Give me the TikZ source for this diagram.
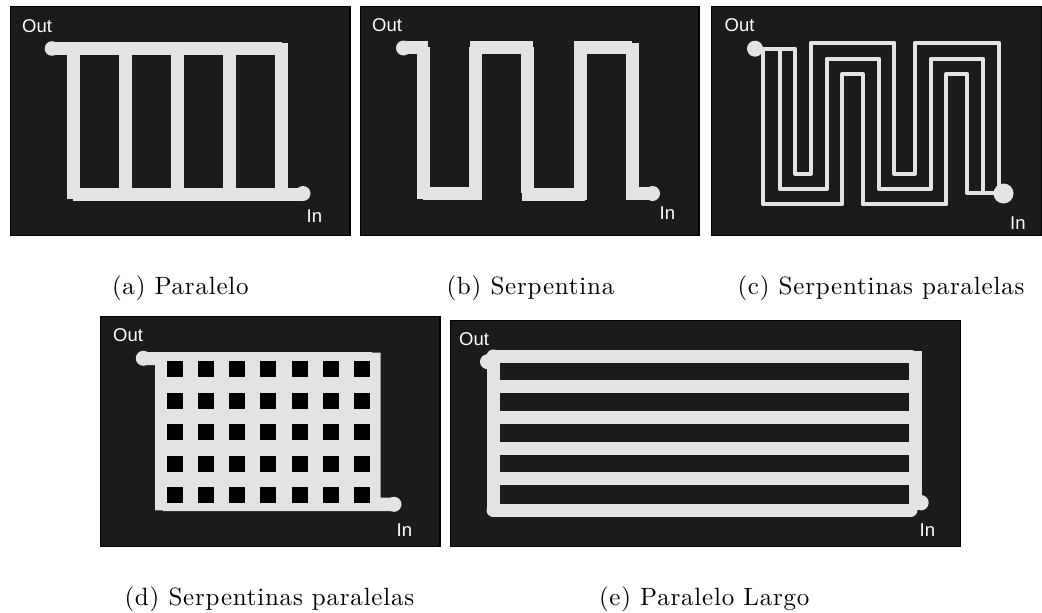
\documentclass[tikz,border=0pt]{standalone}
\usepackage{fontspec}
\setmainfont{Latin Modern Roman}
\newfontfamily\labelfont{Liberation Sans}
\definecolor{plate}{HTML}{1B1B1B}
\definecolor{copper}{HTML}{E3E3E3}
\tikzset{
  panel/.style={draw=black,line width=1.5,fill=plate},
  track/.style={draw=copper,line width=13},
  thintrack/.style={draw=copper,line width=4,line join=round},
  port/.style={anchor=base west,inner sep=0,text=white,font=\labelfont\fontsize{18.5}{20}\selectfont},
  capt/.style={anchor=base west,inner sep=0,scale=2.5,font=\addfontfeature{LetterSpace=3.1}}
}
\begin{document}
\begin{tikzpicture}[x=1pt,y=-1pt]
\useasboundingbox (0,0) rectangle (1042,613);

% (a)
\draw[panel] (10.5,6.5) rectangle (350,235.5);
\draw[track] (52,48.3) -- (281.7,48.3);
\draw[track] (281.7,43) -- (281.7,194);
\draw[track] (73.5,48) -- (73.5,199);
\draw[track] (73,194) -- (303,194);
\foreach \xa in {125.5,177.5,229.5}{
  \draw[track] (\xa,48) -- (\xa,194);
}
\fill[copper] (52,48.5) circle (7.3);
\fill[copper] (303,193.5) circle (7.5);
\node[port] (outa) at (22,32) {Out};
\node[port] (ina) at (306.5,222.5) {In};
\node[capt] (capa) at (111.5,294) {(a) Paralelo};

% (b)
\draw[panel] (360.5,6.5) rectangle (699,235.5);
\draw[track] (403,47.8) -- (428,47.8);
\draw[track] (423.5,47) -- (423.5,199);
\draw[track] (423,193.5) -- (481,193.5);
\draw[track] (475.5,200) -- (475.5,47);
\draw[track] (470,47.5) -- (533,47.5);
\draw[track] (527.5,47) -- (527.5,193);
\draw[track] (522,194) -- (585,194);
\draw[track] (580,200) -- (580,47);
\draw[track] (574,47.5) -- (632,47.5);
\draw[track] (632.5,42.5) -- (632.5,193);
\draw[track] (626,193.5) -- (652,193.5);
\fill[copper] (403.5,48) circle (7.5);
\fill[copper] (652.5,193.5) circle (7.5);
\node[port] (outb) at (372,31.7) {Out};
\node[port] (inb) at (659.5,219.5) {In};
\node[capt] (capb) at (446,294) {(b) Serpentina};

% (c)
\draw[panel] (711.5,6.5) rectangle (1041.5,235.5);
\draw[thintrack] (755,48.7) -- (763.3,48.7) -- (763.3,204.3) -- (842,204.3) -- (842,74) -- (862.7,74) -- (862.7,204.3) -- (946.3,204.3) -- (946.3,74) -- (967.3,74) -- (967.3,193.3) -- (1003,193.3);
\draw[thintrack] (779.7,48.7) -- (779.7,189) -- (826.7,189) -- (826.7,58.7) -- (878.7,58.7) -- (878.7,189) -- (930.7,189) -- (930.7,58.7) -- (983,58.7) -- (983,193.3);
\draw[thintrack] (763.3,48.7) -- (795,48.7) -- (795,173.7) -- (811,173.7) -- (811,42.7) -- (894.3,42.7) -- (894.3,173.7) -- (915,173.7) -- (915,42.7) -- (998.7,42.7) -- (998.7,193.3);
\fill[copper] (755,48.7) circle (8);
\fill[copper] (1003.5,193.5) circle (10);
\node[port] (outc) at (724.5,31.7) {Out};
\node[port] (inc) at (1010,229) {In};
\node[capt] (capc) at (737,294) {(c) Serpentinas paralelas};

% (d)
\draw[panel] (100.5,316.5) rectangle (440,546.5);
\fill[copper] (143,352) -- (372,352) -- (372,352.7) -- (380.7,352.7) -- (380.7,497.7) -- (394,497.7) -- (394,511) -- (163,511) -- (163,510.3) -- (155,510.3) -- (155,365) -- (143,365) -- cycle;
\fill[copper] (143.3,358.3) circle (7.5);
\fill[copper] (394,504.3) circle (7.5);
\foreach \xa in {0,...,6}{
  \foreach \ya in {0,...,4}{
    \fill[black] (166.5+31.25*\xa,361+31.5*\ya) rectangle +(16.2,16.2);
  }
}
\node[port] (outd) at (113,341.7) {Out};
\node[port] (ind) at (396.5,536.7) {In};
\node[capt] (capd) at (124,605) {(d) Serpentinas paralelas};

% (e)
\draw[panel] (450.5,320.5) rectangle (960.5,546.5);
\foreach \ya in {386.7,417.3,448,478.7}{
  \draw[track] (493,\ya) -- (915,\ya);
}
\draw[track,line cap=round] (493,356) -- (493,510);
\draw[track,line cap=round] (493,356) -- (911,356);
\draw[track,line cap=round] (493,510) -- (911,510);
\draw[track] (915.5,351) -- (915.5,510);
\fill[copper] (487.5,361.7) circle (7.5);
\fill[copper] (921,502.7) circle (7.7);
\node[port] (oute) at (459,345) {Out};
\node[port] (ine) at (919.5,536.7) {In};
\node[capt] (cape) at (598.5,605) {(e) Paralelo Largo};
\end{tikzpicture}
\end{document}
